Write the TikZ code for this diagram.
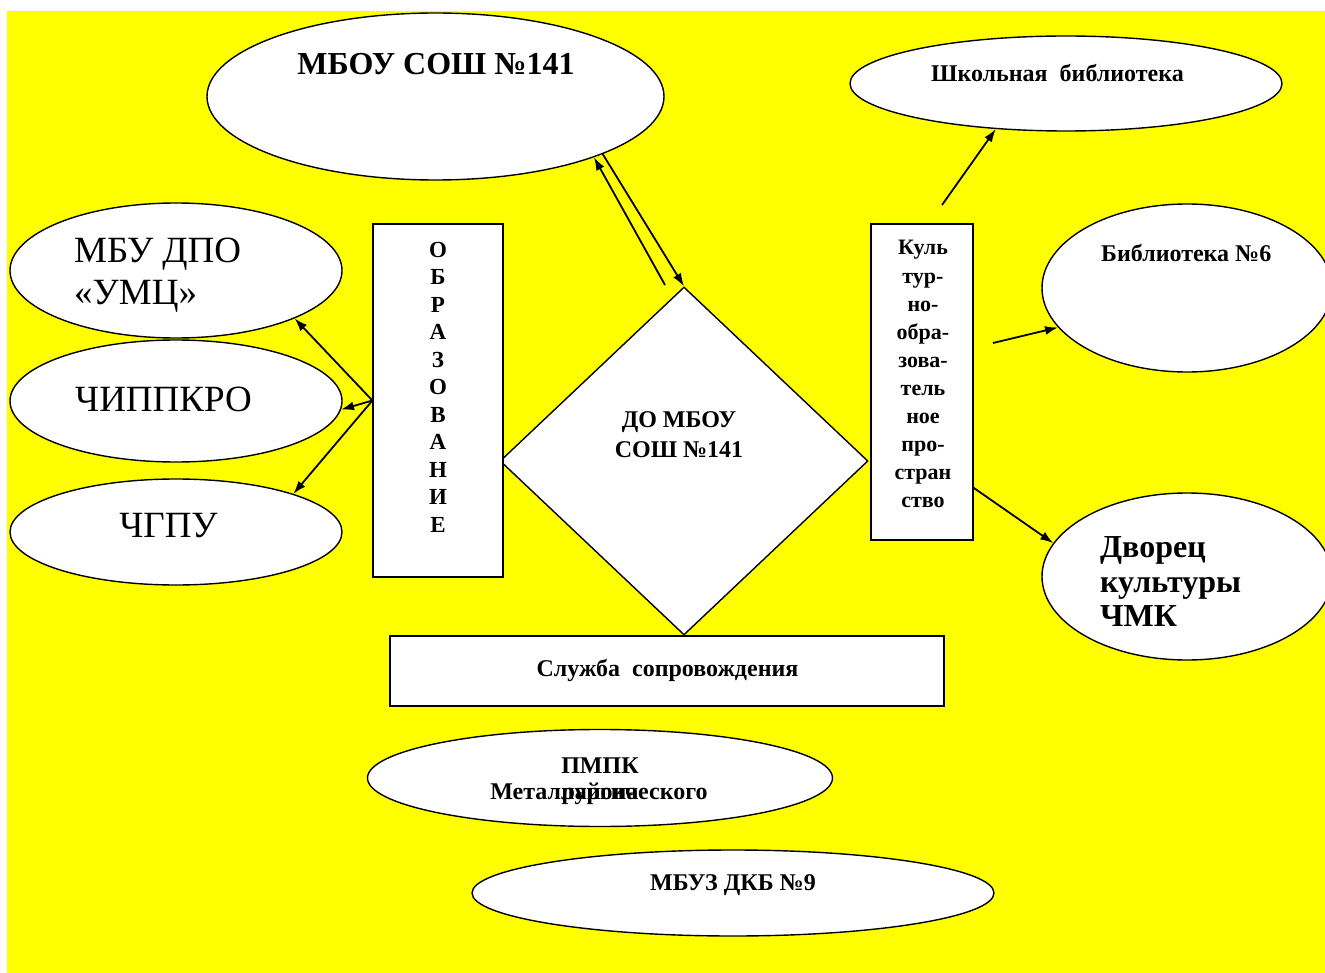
\documentclass[tikz,border=0pt]{standalone}
\usepackage{fontspec}
\setmainfont{Liberation Serif}
\usetikzlibrary{shapes.geometric,arrows.meta}

\definecolor{bgyellow}{RGB}{255,255,0}
\tikzset{
  oval/.style={draw, ellipse, fill=white, line width=1.4pt, inner sep=0pt},
  box/.style={draw, rectangle, fill=white, line width=1.2pt, inner sep=0pt},
  lbl/.style={inner sep=0pt, font=\bfseries\fontsize{24}{28}\selectfont},
  big/.style={inner sep=0pt, font=\fontsize{37}{42}\selectfont, align=left},
  link/.style={line width=1.8pt, -{Latex[length=13pt,width=9pt]}},
}

\begin{document}
\begin{tikzpicture}[x=1pt,y=-1pt]
  %%%%% START %%%%%
  \useasboundingbox (0,0) rectangle (1325,973);
  \fill[white] (0,0) rectangle (1325,973);
  \fill[bgyellow] (7,11) rectangle (1325,973);

  % centre
  \node[draw, diamond, fill=white, line width=1.4pt, inner sep=0pt,
        minimum width=368, minimum height=348] (dia) at (684,461) {};
  \node[lbl, font=\bfseries\fontsize{24}{30}\selectfont, align=center] (diaT) at (679,434.4) {ДО МБОУ\\СОШ №141};

  % top
  \node[oval, minimum width=457, minimum height=167] (mbou) at (435.5,96.5) {};
  \node[lbl, font=\bfseries\fontsize{32}{36}\selectfont, anchor=base] (mbouT) at (436,75) {МБОУ СОШ №141};

  % left
  \node[box, minimum width=130, minimum height=353] (obraz) at (438,400.5) {};
  \node[lbl, font=\bfseries\fontsize{23}{27.5}\selectfont, align=center] (obrazT) at (438,387)
    {О\\Б\\Р\\А\\З\\О\\В\\А\\Н\\И\\Е};

  \node[oval, minimum width=332, minimum height=135] (umc) at (176,270.5) {};
  \node[big, anchor=west] (umcT) at (74,275.3) {МБУ ДПО\\«УМЦ»};
  \node[oval, minimum width=332, minimum height=122] (chip) at (176,401) {};
  \node[big, anchor=base west] (chipT) at (75,411) {ЧИППКРО};
  \node[oval, minimum width=332, minimum height=106] (chgpu) at (176,532) {};
  \node[big, anchor=base] (chgpuT) at (168.5,537) {ЧГПУ};

  \draw[link] (obraz.west) -- (umc.-22.5);
  \draw[link] (obraz.west) -- (chip.-3);
  \draw[link] (obraz.west) -- (chgpu.18);

  % right
  \node[box, minimum width=102, minimum height=316] (kult) at (922,382) {};
  \node[lbl, font=\bfseries\fontsize{22}{28.1}\selectfont, align=center] (kultT) at (923,374.3)
    {Куль\\тур-\\но-\\обра-\\зова-\\тель\\ное\\про-\\стран\\ство};

  \node[oval, minimum width=432, minimum height=95] (shkola) at (1066,83.5) {};
  \node[lbl, anchor=base] (shkolaT) at (1057.5,82) {Школьная\ \ библиотека};
  \node[oval, minimum width=290, minimum height=168] (bib) at (1187,288) {};
  \node[lbl, anchor=base west] (bibT) at (1101,262) {Библиотека №6};
  \node[oval, minimum width=290, minimum height=167] (dvorec) at (1187,576.5) {};
  \node[lbl, font=\bfseries\fontsize{32}{34.5}\selectfont, align=left, anchor=west] (dvorecT) at (1100,582)
    {Дворец\\культуры\\ЧМК};

  \coordinate (kTop) at (942,205);
  \coordinate (kMid) at (993,343);
  \draw[link] (kTop) -- (shkola.-147);
  \draw[link] (kMid) -- (bib.-163);
  \draw[link] (kult.-64.7) -- (dvorec.166);

  % diamond <-> school
  \coordinate (dL) at (665,285);
  \draw[link] (dL) -- (mbou.-21.5);
  \draw[link] (mbou.-19.5) -- (dia.north);

  % bottom
  \node[box, minimum width=554, minimum height=70] (sluzh) at (667,671) {};
  \node[lbl, anchor=base] (sluzhT) at (667.5,676) {Служба\ \ сопровождения};

  \node[oval, minimum width=465, minimum height=97] (pmpk) at (600,778) {};
  \node[lbl, anchor=base] (pmpkT) at (600,773) {ПМПК};
  \node[lbl, anchor=base] (pmpkA) at (599,799) {Металлургического};
  \node[lbl, anchor=base] (pmpkB) at (600,799) {района};

  \node[oval, minimum width=522, minimum height=86] (mbuz) at (733,893) {};
  \node[lbl, anchor=base] (mbuzT) at (733,890) {МБУЗ ДКБ №9};
  %%%%% END %%%%%
\end{tikzpicture}
\end{document}
